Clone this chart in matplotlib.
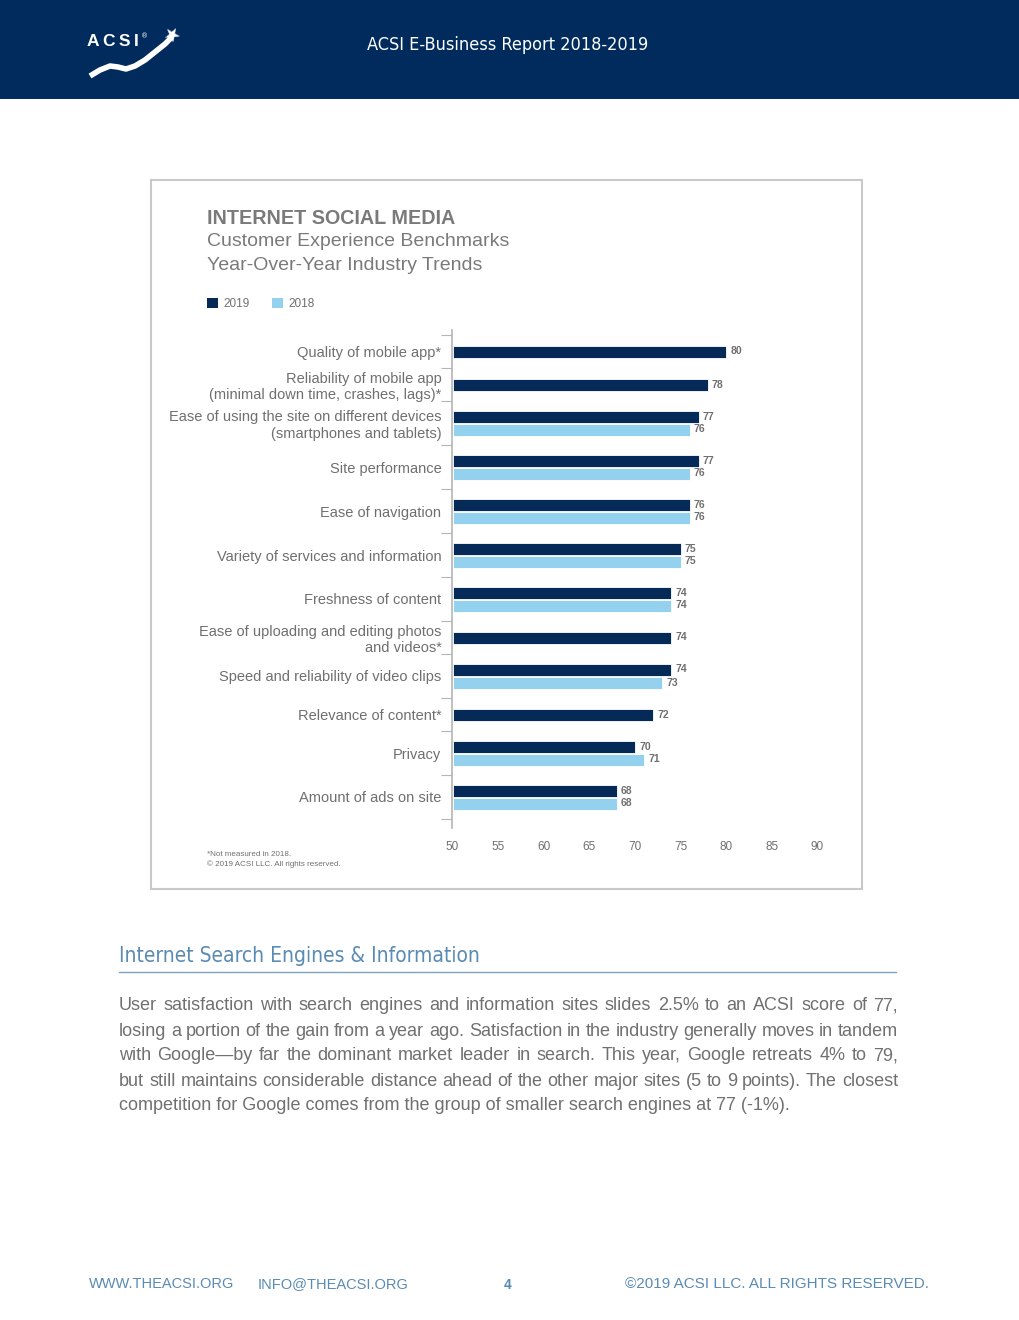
import matplotlib.pyplot as plt
from matplotlib.patches import Rectangle
from matplotlib.lines import Line2D

# chart data
categories = [
    "Quality of mobile app*",
    "Reliability of mobile app\n(minimal down time, crashes, lags)*",
    "Ease of using the site on different devices\n(smartphones and tablets)",
    "Site performance",
    "Ease of navigation",
    "Variety of services and information",
    "Freshness of content",
    "Ease of uploading and editing photos\nand videos*",
    "Speed and reliability of video clips",
    "Relevance of content*",
    "Privacy",
    "Amount of ads on site",
]
scores_2019 = [80, 78, 77, 77, 76, 75, 74, 74, 74, 72, 70, 68]
scores_2018 = [None, None, 76, 76, 76, 75, 74, None, 73, None, 71, 68]
x_ticks = [50, 55, 60, 65, 70, 75, 80, 85, 90]

paragraph = [
    "User satisfaction with search engines and information sites slides 2.5% to an ACSI score of 77,",
    "losing a portion of the gain from a year ago. Satisfaction in the industry generally moves in tandem",
    "with Google\u2014by far the dominant market leader in search. This year, Google retreats 4% to 79,",
    "but still maintains considerable distance ahead of the other major sites (5 to 9 points). The closest",
    "competition for Google comes from the group of smaller search engines at 77 (-1%).",
]

NAVY = "#002b5c"
DARK = "#062a57"
LIGHT = "#93d1ef"
GRAY = "#6f6f6f"
BLUE = "#5a8bb3"
SANS = ["Liberation Sans", "DejaVu Sans"]
NARROW = ["DejaVu Sans"]

W, H = 1020, 1320
fig = plt.figure(figsize=(W / 100, H / 100), dpi=100)
fig.patch.set_facecolor("white")


def fx(px):
    return px / W


def fy(py):
    return 1 - py / H


# header band
fig.patches.append(Rectangle((0, fy(99)), 1, 99 / H, transform=fig.transFigure,
                             facecolor=NAVY, edgecolor="none", zorder=-2))
fig.text(fx(508), fy(45), "ACSI E-Business Report 2018-2019", color="white",
         family=NARROW, fontstretch="condensed", fontsize=13, ha="center", va="center")
# logo
fig.text(fx(87), fy(41), "A\u2009C\u2009S\u2009I", color="white", fontsize=12.5,
         fontweight="bold", family=SANS, ha="left", va="center")
fig.text(fx(141), fy(36), "\u00ae", color="white", fontsize=5, ha="left", va="center")
swoosh_x = [90, 100, 110, 118, 126, 135, 145, 155, 165, 172]
swoosh_y = [76, 70, 66, 67, 69, 66, 60, 52, 44, 37]
fig.lines.append(Line2D([fx(v) for v in swoosh_x], [fy(v) for v in swoosh_y],
                        transform=fig.transFigure, color="white", lw=4,
                        solid_capstyle="butt"))
fig.text(fx(171), fy(36), "\u2605", color="white", fontsize=14, ha="center",
         va="center", rotation=-30)

# chart frame
fig.patches.append(Rectangle((fx(151), fy(889)), fx(862) - fx(151), fy(180) - fy(889),
                             transform=fig.transFigure, facecolor="white",
                             edgecolor="#c9c9c9", lw=1.5, zorder=-2))

fig.text(fx(207), fy(218), "INTERNET SOCIAL MEDIA", color="#7a7a7a", fontsize=14.2,
         fontweight="bold", family=SANS, va="center")
fig.text(fx(207), fy(242), "Customer Experience Benchmarks", color="#7a7a7a",
         fontsize=14, family=SANS, va="center")
fig.text(fx(207), fy(265), "Year-Over-Year Industry Trends", color="#7a7a7a",
         fontsize=14, family=SANS, va="center")

# legend
for x0, col, lab in [(207, DARK, "2019"), (272, LIGHT, "2018")]:
    fig.patches.append(Rectangle((fx(x0), fy(308)), 11 / W, 10 / H,
                                 transform=fig.transFigure, facecolor=col,
                                 edgecolor="none"))
    fig.text(fx(x0 + 16), fy(303.5), lab, color=GRAY, fontsize=8.5,
             family=SANS, va="center")

# bar chart: slot heights depend on how many bars a category has
pair_slot, single_slot, top_pad, bottom_pad = 44, 33, 5, 9
bar_h = 12
bounds = [top_pad]
for v in scores_2018:
    bounds.append(bounds[-1] + (single_slot if v is None else pair_slot))
centers = [(a + b) / 2 for a, b in zip(bounds[:-1], bounds[1:])]

ax = fig.add_axes([fx(452.5), fy(828), fx(817.3) - fx(452.5), fy(330) - fy(828)])
ax.set_xlim(50, 90)
ax.set_ylim(bounds[-1] + bottom_pad, 0)

val_kw = dict(fontsize=7.5, fontweight="bold", color=GRAY, va="center", family=SANS)
for c, v19, v18 in zip(centers, scores_2019, scores_2018):
    if v18 is None:
        ax.barh(c, v19 - 50, left=50, height=bar_h, color=DARK,
                edgecolor="white", lw=0.6)
        ax.text(v19 + 0.45, c, str(v19), **val_kw)
    else:
        y19, y18 = c - bar_h / 2 - 0.5, c + bar_h / 2 + 0.5
        ax.barh(y19, v19 - 50, left=50, height=bar_h, color=DARK,
                edgecolor="white", lw=0.6)
        ax.barh(y18, v18 - 50, left=50, height=bar_h, color=LIGHT,
                edgecolor="white", lw=0.6)
        ax.text(v19 + 0.45, y19, str(v19), **val_kw)
        ax.text(v18 + 0.45, y18, str(v18), **val_kw)

ax.set_yticks(bounds)
ax.set_yticklabels([])
ax.set_yticks(centers, minor=True)
ax.set_yticklabels(categories, minor=True, fontsize=10.5, color=GRAY,
                   family=SANS, linespacing=1.2)
ax.tick_params(axis="y", which="major", length=8, width=0.8, color="#b5b5b5")
ax.tick_params(axis="y", which="minor", length=0, pad=8)
ax.set_xticks(x_ticks)
ax.set_xticklabels([str(t) for t in x_ticks], fontsize=8.5, color=GRAY, family=SANS)
ax.tick_params(axis="x", length=0, pad=9)
for s in ["top", "right", "bottom"]:
    ax.spines[s].set_visible(False)
ax.spines["left"].set_color("#b5b5b5")
ax.spines["left"].set_linewidth(1.2)
ax.patch.set_alpha(0)

fig.text(fx(207), fy(854), "*Not measured in 2018.", fontsize=5.8, color=GRAY,
         family=SANS, va="center")
fig.text(fx(207), fy(864), "\u00a9 2019 ACSI LLC. All rights reserved.", fontsize=5.8,
         color=GRAY, family=SANS, va="center")

# section heading
fig.text(fx(119), fy(956), "Internet Search Engines & Information", color=BLUE,
         fontsize=15, family=NARROW, fontstretch="condensed", va="center")
fig.lines.append(Line2D([fx(119), fx(896)], [fy(972), fy(972)], transform=fig.transFigure,
                        color="#7ea3bf", lw=1))

# justified paragraph
renderer = fig.canvas.get_renderer()
para_kw = dict(fontsize=13, color="#707070", family=SANS, va="center")
for i, line in enumerate(paragraph):
    yy = fy(1006 + 25 * i)
    if i == len(paragraph) - 1:
        fig.text(fx(119), yy, line, **para_kw)
        continue
    words = line.split(" ")
    texts = [fig.text(0, yy, w, **para_kw) for w in words]
    widths = [t.get_window_extent(renderer).width for t in texts]
    gap = (898 - 119 - sum(widths)) / (len(words) - 1)
    xpos = 119
    for t, w in zip(texts, widths):
        t.set_x(fx(xpos))
        xpos += w + gap

# footer
foot_kw = dict(color=BLUE, fontsize=10.5, family=SANS, va="center")
fig.text(fx(89), fy(1284), "WWW.THEACSI.ORG", **foot_kw)
fig.text(fx(258), fy(1284), "INFO@THEACSI.ORG", **foot_kw)
fig.text(fx(508), fy(1285), "4", color=BLUE, fontsize=10, fontweight="bold",
         family=SANS, ha="center", va="center")
fig.text(fx(929), fy(1284), "\u00a92019 ACSI LLC. ALL RIGHTS RESERVED.", ha="right",
         **dict(foot_kw, fontsize=11))

fig.savefig("out.png", dpi=100)
